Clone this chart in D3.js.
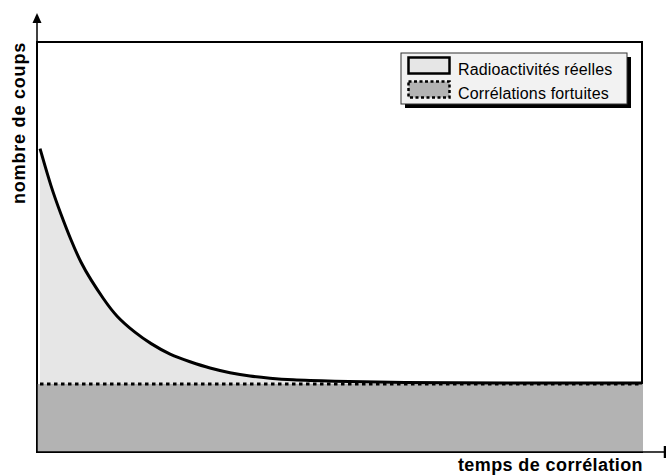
<!DOCTYPE html>
<head>
<meta charset="utf-8">
<style>
  body { margin: 0; background: #fff; }
  text { font-family: "Liberation Sans", Arial, sans-serif; }
</style>
<script src="https://d3js.org/d3.v7.min.js"></script>
<script>
// decay curve (x: time, y: counts, both 0..100)
var decayX = [0.5, 2.3, 4.0, 5.6, 7.3, 8.9, 10.9, 13.1, 16.4, 18.7, 22.0, 25.3, 28.6, 31.9, 35.2, 38.5, 41.8, 48.4, 60.0, 76.5, 100];
var decayY = [74.0, 64.7, 57.8, 51.7, 46.0, 42.0, 37.5, 33.0, 28.9, 26.5, 23.7, 22.0, 20.4, 19.3, 18.5, 18.0, 17.6, 17.3, 16.9, 16.8, 16.8];
var background = 16.6;
var seriesNames = ["Radioactivités réelles", "Corrélations fortuites"];
var axisTitles = ["temps de corrélation", "nombre de coups"];

window.addEventListener('load', function() {
  var width = 666, height = 476;
  var left = 37, top = 42, right = 642, bottom = 452;

  var svg = d3.select("body").append("svg").attr("width", width).attr("height", height);
  var x = d3.scaleLinear().domain([0, 100]).range([left, right]);
  var y = d3.scaleLinear().domain([0, 100]).range([bottom, top]);

  var pts = decayX.map(function(d, i) { return [d, decayY[i]]; });

  // frame
  svg.append("rect").attr("x", left).attr("y", top)
    .attr("width", right - left).attr("height", bottom - top)
    .attr("fill", "#fff").attr("stroke", "#000").attr("stroke-width", 2);

  // area under the decay
  var area = d3.area().curve(d3.curveBasis)
    .x(function(d) { return x(d[0]); })
    .y0(y(0))
    .y1(function(d) { return y(d[1]); });
  svg.append("path").datum(pts).attr("d", area).attr("fill", "#e6e6e6");

  // accidental correlations
  svg.append("rect").attr("x", x(0)).attr("y", y(background))
    .attr("width", x(100) - x(0) + 1).attr("height", y(0) - y(background))
    .attr("fill", "#b3b3b3");

  svg.append("line")
    .attr("x1", x(0) + 3).attr("x2", x(100))
    .attr("y1", y(background)).attr("y2", y(background))
    .attr("stroke", "#000").attr("stroke-width", 3).attr("stroke-dasharray", "3.5,3.5");

  var line = d3.line().curve(d3.curveBasis)
    .x(function(d) { return x(d[0]); })
    .y(function(d) { return y(d[1]); });
  svg.append("path").datum(pts).attr("d", line)
    .attr("fill", "none").attr("stroke", "#000").attr("stroke-width", 3);

  // axes with arrow / end tick
  svg.append("line").attr("x1", left).attr("x2", left).attr("y1", bottom + 1).attr("y2", 20)
    .attr("stroke", "#000").attr("stroke-width", 1.5);
  svg.append("path").attr("d", "M" + left + ",13L" + (left - 4.5) + ",23L" + (left + 4.5) + ",23Z").attr("fill", "#000");
  svg.append("line").attr("x1", left).attr("x2", 665).attr("y1", bottom).attr("y2", bottom)
    .attr("stroke", "#000").attr("stroke-width", 1.5);
  svg.append("line").attr("x1", 665).attr("x2", 665).attr("y1", 446).attr("y2", 458)
    .attr("stroke", "#000").attr("stroke-width", 2.5);

  svg.append("text").attr("x", 643).attr("y", 471).attr("text-anchor", "end")
    .attr("font-size", "18px").attr("font-weight", "bold")
    .attr("letter-spacing", "0.4px").text(axisTitles[0]);
  svg.append("text").attr("transform", "translate(25,123) rotate(-90)").attr("text-anchor", "middle")
    .attr("font-size", "18px").attr("font-weight", "bold")
    .attr("letter-spacing", "0.8px").text(axisTitles[1]);

  // legend
  var lg = svg.append("g").attr("transform", "translate(401,53)");
  lg.append("rect").attr("x", 4).attr("y", 4).attr("width", 226).attr("height", 51).attr("fill", "#000");
  lg.append("rect").attr("x", 0).attr("y", 0).attr("width", 226).attr("height", 51)
    .attr("fill", "#f2f2f2").attr("stroke", "#333").attr("stroke-width", 1);
  var fills = ["#e6e6e6", "#b3b3b3"];
  var dashes = [null, "3,2.5"];
  seriesNames.forEach(function(name, i) {
    lg.append("rect").attr("x", 7.5).attr("y", 4.5 + i * 24).attr("width", 41).attr("height", 16)
      .attr("fill", fills[i]).attr("stroke", "#000").attr("stroke-width", 2.5)
      .attr("stroke-dasharray", dashes[i]);
    lg.append("text").attr("x", 57).attr("y", 21.5 + i * 24)
      .attr("font-size", "16px").attr("letter-spacing", "0.15px").text(name);
  });
});
</script>
</head>
<body>
</body>
</html>
